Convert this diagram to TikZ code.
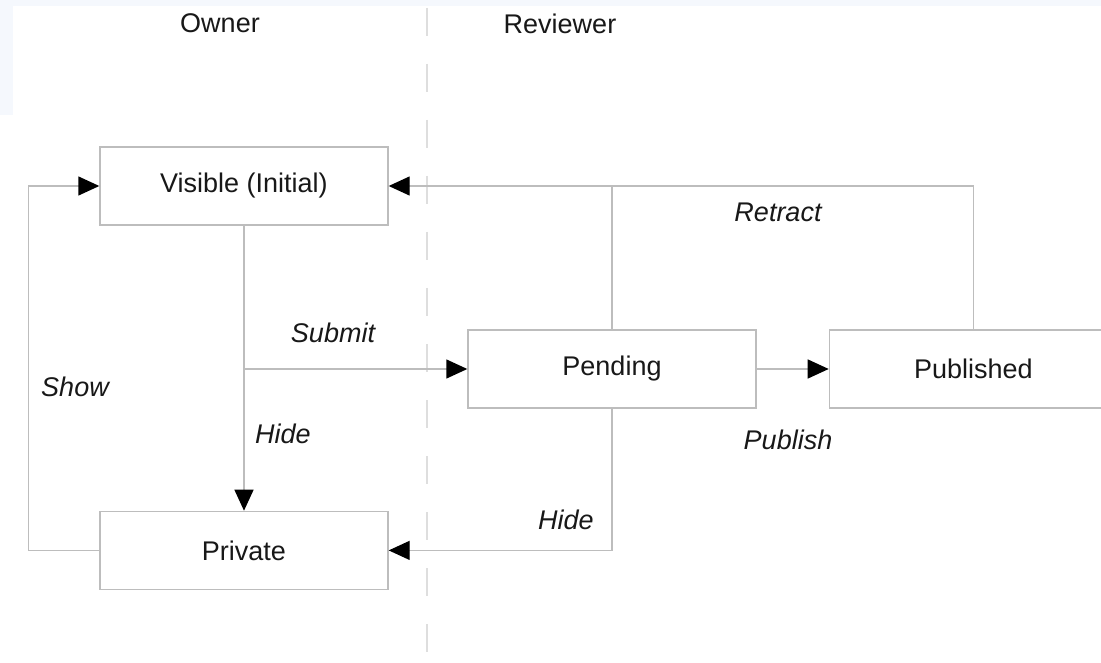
\documentclass[tikz,border=0pt]{standalone}
\usepackage{fontspec}
\setmainfont{Liberation Sans}
\usetikzlibrary{arrows.meta,positioning}
\definecolor{linegray}{HTML}{BDBDBD}
\definecolor{lanegray}{HTML}{DEDEDE}
\definecolor{bgblue}{HTML}{F5F8FD}
\definecolor{textdark}{HTML}{181818}

\begin{document}
\begin{tikzpicture}[x=1pt,y=-1pt,text=textdark,
    state box/.style={draw=linegray,line width=1.4pt,minimum width=288pt,minimum height=78pt,font=\fontsize{27}{32}\selectfont},
    flow/.style={draw=linegray,line width=1.4pt,-{Triangle[length=21pt,width=19pt,color=black]}},
    plain/.style={draw=linegray,line width=1.4pt},
    edge label/.style={font=\fontsize{27}{32}\selectfont\itshape},
    lane label/.style={font=\fontsize{27}{32}\selectfont}]
  % page and margins
  \useasboundingbox (0,0) rectangle (1101,663);
  \fill[white] (0,0) rectangle (1101,663);
  \fill[bgblue] (0,0) rectangle (1101,6);
  \fill[bgblue] (0,0) rectangle (13,115);

  % lanes
  \node[lane label] (owner) at (220,23) {Owner};
  \node[lane label] (reviewer) at (560,24) {Reviewer};
  \draw[lanegray,line width=1.4pt,dash pattern=on 28pt off 28pt] (427,8) -- (427,663);

  % states
  \node[state box] (vis) at (244,186) {Visible (Initial)};
  \node[state box] (priv) [below=285pt of vis] {Private};
  \node[state box] (pend) at (612,369) {Pending};
  \node[state box] (pub) [right=72pt of pend] {Published};

  \coordinate (branch) at (vis.south |- pend.west);
  \coordinate (join) at (pend.north |- vis.east);

  % transitions
  \draw[flow] (priv.west) -- ++(-71,0) |- (vis.west);
  \draw[flow] (vis) -- (priv);
  \draw[flow] (branch) -- (pend.west);
  \draw[flow] (pend.north) |- (vis.east);
  \draw[plain] (pub.north) |- (join);
  \draw[flow] (pend) -- (pub);
  \draw[flow] (pend.south) |- (priv.east);

  % labels
  \node[edge label] (show) at (75,387) {Show};
  \node[edge label] (hide1) at (283,434) {Hide};
  \node[edge label] (submit) at (333,333) {Submit};
  \node[edge label] (retract) at (778,212) {Retract};
  \node[edge label] (publish) at (788,440) {Publish};
  \node[edge label] (hide2) at (566,520) {Hide};
\end{tikzpicture}
\end{document}
